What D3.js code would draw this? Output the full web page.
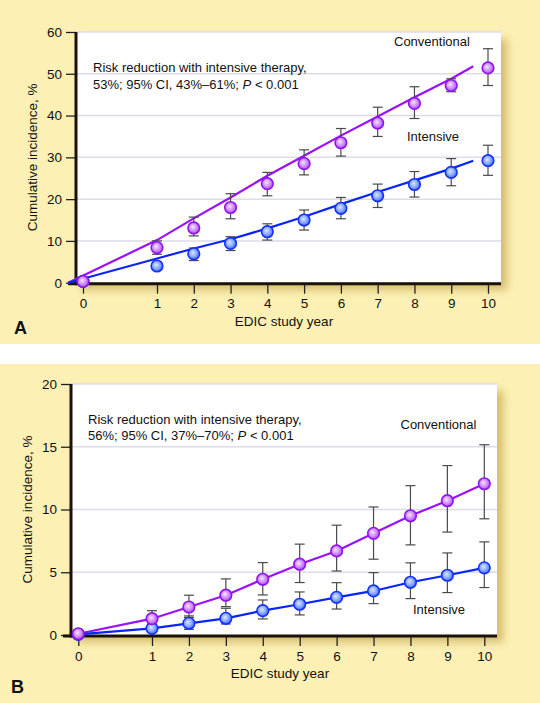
<!DOCTYPE html>
<html>
<head>
<meta charset="utf-8">
<script src="https://cdn.jsdelivr.net/npm/d3@7"></script>
<style>
  html, body { margin: 0; padding: 0; background: #ffffff; }
  svg { display: block; font-family: "Liberation Sans", Arial, Helvetica, sans-serif; }
</style>
</head>
<body>
<svg id="chart" width="540" height="703"></svg>
<script>
// ---------------- DATA ----------------
const years = [0, 1, 2, 3, 4, 5, 6, 7, 8, 9, 10];
const xTickLabels = ["0", "1", "2", "3", "4", "5", "6", "7", "8", "9", "10"];

// Panel A
const aYTicks = [0, 10, 20, 30, 40, 50, 60];
const aConv      = [0.3, 8.4, 13.1, 18.0, 23.7, 28.5, 33.5, 38.2, 42.9, 47.2, 51.4];
const aConvLow   = [0.3, 6.8, 11.2, 15.3, 20.8, 25.8, 30.3, 35.0, 39.3, 45.7, 47.2];
const aConvHigh  = [0.3, 10.0, 15.7, 21.3, 26.4, 31.8, 36.9, 42.0, 46.9, 48.8, 56.0];
const aInt       = [0.3, 4.0, 6.9, 9.4, 12.2, 15.0, 17.8, 20.8, 23.5, 26.4, 29.2];
const aIntLow    = [0.3, 3.2, 5.3, 7.7, 10.2, 12.6, 15.3, 18.0, 20.5, 23.2, 25.7];
const aIntHigh   = [0.3, 4.8, 8.3, 11.0, 14.1, 17.4, 20.4, 23.6, 26.6, 29.7, 32.9];
// fitted curves (panel A)
const aFitYears  = [-0.2, 1, 2, 3, 4, 5, 6, 7, 8, 9, 9.6];
const aConvFit   = [0, 10.2, 15.4, 20.4, 25.6, 30.4, 35.2, 39.8, 44.4, 48.8, 51.8];
const aIntFit    = [0, 5.8, 8.2, 10.4, 13.0, 15.8, 18.8, 21.7, 24.5, 27.3, 29.2];

// Panel B
const bYTicks = [0, 5, 10, 15, 20];
const bConv      = [0.1, 1.3, 2.23, 3.17, 4.44, 5.64, 6.7, 8.1, 9.5, 10.7, 12.05];
const bConvLow   = [0.1, 0.7, 1.4, 2.26, 3.19, 4.18, 5.1, 6.04, 7.18, 8.2, 9.26];
const bConvHigh  = [0.1, 1.94, 3.17, 4.47, 5.77, 7.24, 8.75, 10.2, 11.9, 13.5, 15.16];
const bInt       = [0.05, 0.53, 0.93, 1.33, 1.94, 2.45, 3.0, 3.51, 4.2, 4.76, 5.35];
const bIntLow    = [0.05, 0.24, 0.45, 0.88, 1.28, 1.6, 2.07, 2.5, 2.9, 3.38, 3.78];
const bIntHigh   = [0.05, 0.88, 1.52, 2.13, 2.79, 3.43, 4.17, 4.97, 5.75, 6.54, 7.42];

// ---------------- STYLE / LAYOUT ----------------
const BG = "#fcf0b4";
const CONV_LINE = "#9a10ff";
const INT_LINE = "#0a24ff";

const svg = d3.select("#chart");
const defs = svg.append("defs");

const shadow = defs.append("filter").attr("id", "shadow")
  .attr("x", "-10%").attr("y", "-10%").attr("width", "130%").attr("height", "130%");
shadow.append("feGaussianBlur").attr("stdDeviation", 4);

function radial(id, c0, c1, c2) {
  const g = defs.append("radialGradient").attr("id", id)
    .attr("cx", "45%").attr("cy", "45%").attr("r", "60%").attr("fx", "42%").attr("fy", "40%");
  g.append("stop").attr("offset", "0%").attr("stop-color", c0);
  g.append("stop").attr("offset", "55%").attr("stop-color", c1);
  g.append("stop").attr("offset", "100%").attr("stop-color", c2);
}
radial("gConv", "#f6e6ff", "#d08cff", "#a640f2");
radial("gInt", "#dde8ff", "#86a8ff", "#3858ff");

// backgrounds
svg.append("rect").attr("x", 0).attr("y", 0).attr("width", 540).attr("height", 344).attr("fill", BG);
svg.append("rect").attr("x", 0).attr("y", 364).attr("width", 540).attr("height", 339).attr("fill", BG);

function panel(cfg) {
  const g = svg.append("g");
  const x = d3.scaleLinear().domain([0, 1, 10]).range(cfg.xRange);
  const y = d3.scaleLinear().domain([0, cfg.yMax]).range([cfg.bottom, cfg.top]);

  // shadow + plot background
  g.append("rect")
    .attr("x", cfg.left + 6).attr("y", cfg.top + 7)
    .attr("width", cfg.right - cfg.left).attr("height", cfg.bottom - cfg.top)
    .attr("fill", "#b8963a").attr("opacity", 0.6).attr("filter", "url(#shadow)");
  g.append("rect")
    .attr("x", cfg.left).attr("y", cfg.top)
    .attr("width", cfg.right - cfg.left).attr("height", cfg.bottom - cfg.top)
    .attr("fill", "#ffffff");

  // gridlines
  g.append("g").selectAll("line").data(cfg.yTicks.filter(d => d > 0))
    .join("line")
    .attr("x1", cfg.left).attr("x2", cfg.right)
    .attr("y1", d => y(d)).attr("y2", d => y(d))
    .attr("stroke", "#dcdcea").attr("stroke-width", 1.5);

  // y axis
  const yAxis = d3.axisLeft(y).tickValues(cfg.yTicks).tickSize(10).tickPadding(4);
  const ya = g.append("g").attr("transform", `translate(${cfg.left},0)`).call(yAxis);
  ya.select(".domain").remove();
  ya.selectAll(".tick line").attr("stroke", "#222").attr("stroke-width", 1.3);
  ya.selectAll(".tick text").attr("font-size", 13.5).attr("fill", "#111")
    .attr("font-family", "Liberation Sans, Arial, sans-serif");

  // x axis
  const xAxis = d3.axisBottom(x).tickValues(years).tickFormat((d, i) => xTickLabels[i]).tickSize(10).tickPadding(5);
  const xa = g.append("g").attr("transform", `translate(0,${cfg.bottom + 1})`).call(xAxis);
  xa.select(".domain").remove();
  xa.selectAll(".tick line").attr("stroke", "#222").attr("stroke-width", 1.3);
  xa.selectAll(".tick text").attr("font-size", 13.5).attr("fill", "#111")
    .attr("font-family", "Liberation Sans, Arial, sans-serif");

  // axis lines (thick)
  g.append("line").attr("x1", cfg.left).attr("x2", cfg.left)
    .attr("y1", cfg.top).attr("y2", cfg.bottom + 2.5)
    .attr("stroke", "#1a1208").attr("stroke-width", 3);
  g.append("line").attr("x1", cfg.left - 8).attr("x2", cfg.right)
    .attr("y1", cfg.bottom + 1).attr("y2", cfg.bottom + 1)
    .attr("stroke", "#1a1208").attr("stroke-width", 3);

  // lines
  const line = d3.line().x(d => x(d[0])).y(d => y(d[1]));
  const fitX = cfg.fitYears || years;
  g.append("path").datum(fitX.map((yr, i) => [yr, cfg.convLine[i]]))
    .attr("d", line).attr("fill", "none").attr("stroke", CONV_LINE).attr("stroke-width", 2.2);
  g.append("path").datum(fitX.map((yr, i) => [yr, cfg.intLine[i]]))
    .attr("d", line).attr("fill", "none").attr("stroke", INT_LINE).attr("stroke-width", 2.2);

  // error bars
  function errBars(vals, lo, hi) {
    const eg = g.append("g").attr("stroke", "#4a4a4a").attr("stroke-width", 1.2);
    years.forEach((yr, i) => {
      if (hi[i] - lo[i] < 0.01) return;
      const cx = x(yr);
      eg.append("line").attr("x1", cx).attr("x2", cx).attr("y1", y(lo[i])).attr("y2", y(hi[i]));
      eg.append("line").attr("x1", cx - 5).attr("x2", cx + 5).attr("y1", y(lo[i])).attr("y2", y(lo[i]));
      eg.append("line").attr("x1", cx - 5).attr("x2", cx + 5).attr("y1", y(hi[i])).attr("y2", y(hi[i]));
    });
  }
  errBars(cfg.conv, cfg.convLow, cfg.convHigh);
  errBars(cfg.int, cfg.intLow, cfg.intHigh);

  // markers
  function markers(vals, fill, stroke) {
    g.append("g").selectAll("circle").data(years)
      .join("circle")
      .attr("cx", d => x(d)).attr("cy", (d, i) => y(vals[i])).attr("r", 5.8)
      .attr("fill", fill).attr("stroke", stroke).attr("stroke-width", 1.6);
  }
  markers(cfg.int, "url(#gInt)", "#1530ff");
  markers(cfg.conv, "url(#gConv)", "#8f14f0");

  // annotation text
  const t = g.append("text").attr("x", cfg.noteX).attr("y", cfg.noteY).attr("font-size", 13).attr("fill", "#111");
  t.append("tspan").attr("x", cfg.noteX).text("Risk reduction with intensive therapy,");
  const t2 = g.append("text").attr("x", cfg.noteX).attr("y", cfg.noteY + 16.5).attr("font-size", 13).attr("fill", "#111");
  t2.append("tspan").text(cfg.note2a);
  t2.append("tspan").attr("font-style", "italic").text("P");
  t2.append("tspan").text(" < 0.001");

  g.append("text").attr("x", cfg.convLabel[0]).attr("y", cfg.convLabel[1]).attr("font-size", 13).attr("fill", "#111").text("Conventional");
  g.append("text").attr("x", cfg.intLabel[0]).attr("y", cfg.intLabel[1]).attr("font-size", 13).attr("fill", "#111").text("Intensive");

  // axis titles
  g.append("text").attr("transform", `translate(${cfg.yTitleX},${(cfg.top + cfg.bottom) / 2}) rotate(-90)`)
    .attr("text-anchor", "middle").attr("font-size", 13.5).attr("fill", "#111").text("Cumulative incidence, %");
  g.append("text").attr("x", cfg.xTitleX).attr("y", cfg.xTitleY).attr("text-anchor", "middle")
    .attr("font-size", 13.5).attr("fill", "#111").text("EDIC study year");

  // panel letter
  g.append("text").attr("x", cfg.letter[0]).attr("y", cfg.letter[1]).attr("font-size", 18)
    .attr("font-weight", "bold").attr("fill", "#111").text(cfg.letterText);
}

panel({
  left: 76, right: 501, top: 32, bottom: 282.7, yMax: 60, yTicks: aYTicks,
  xRange: [83, 157, 488],
  conv: aConv, convLow: aConvLow, convHigh: aConvHigh,
  int: aInt, intLow: aIntLow, intHigh: aIntHigh,
  fitYears: aFitYears, convLine: aConvFit, intLine: aIntFit,
  noteX: 93, noteY: 72, note2a: "53%; 95% CI, 43%\u201361%; ",
  convLabel: [394, 46], intLabel: [407, 140.5],
  yTitleX: 37, xTitleX: 284, xTitleY: 326,
  letter: [14, 334], letterText: "A"
});

panel({
  left: 71, right: 497, top: 384, bottom: 635, yMax: 20, yTicks: bYTicks,
  xRange: [78.3, 152, 484.3],
  conv: bConv, convLow: bConvLow, convHigh: bConvHigh,
  int: bInt, intLow: bIntLow, intHigh: bIntHigh,
  fitYears: years, convLine: bConv, intLine: bInt,
  noteX: 88, noteY: 423.5, note2a: "56%; 95% CI, 37%\u201370%; ",
  convLabel: [400.5, 429], intLabel: [413, 613.5],
  yTitleX: 32, xTitleX: 280, xTitleY: 678,
  letter: [11, 693], letterText: "B"
});
</script>
</body>
</html>
